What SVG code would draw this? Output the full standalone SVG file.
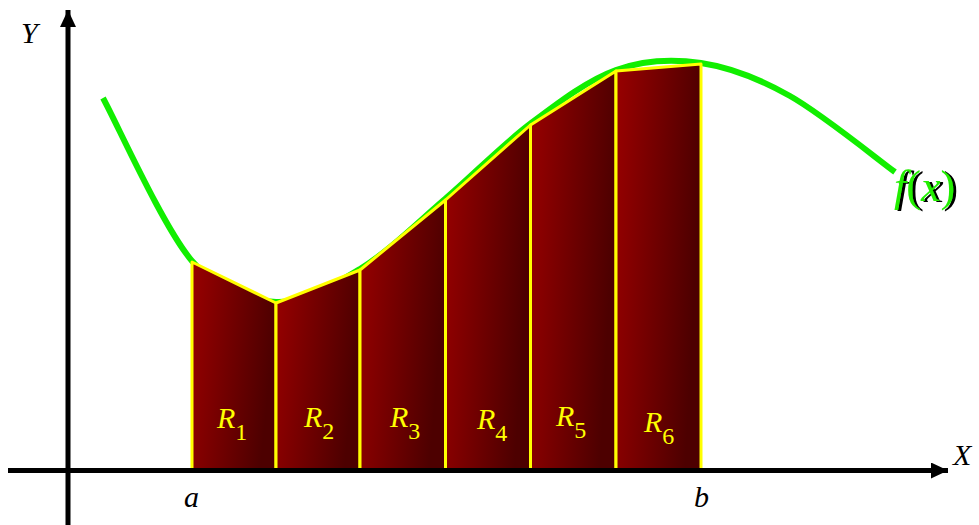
<svg xmlns="http://www.w3.org/2000/svg" width="979" height="525" viewBox="0 0 979 525">
<defs>
<linearGradient id="rg" x1="0" y1="0" x2="1" y2="0.25">
<stop offset="0" stop-color="#990000"/>
<stop offset="1" stop-color="#4d0000"/>
</linearGradient>
<marker id="ah" markerUnits="userSpaceOnUse" markerWidth="20" markerHeight="18" refX="17" refY="8" orient="auto">
<path d="M0,0 L17,8 L0,16 Z" fill="#000"/>
</marker>
<filter id="shadow" x="-10%" y="-10%" width="130%" height="130%">
<feOffset in="SourceAlpha" dx="3" dy="1" result="off"/>
<feFlood flood-color="#000"/>
<feComposite in2="off" operator="in" result="sh"/>
<feMerge><feMergeNode in="sh"/><feMergeNode in="SourceGraphic"/></feMerge>
</filter>
<style>
.trap{fill:url(#rg);stroke:#ffff00;stroke-width:3;stroke-linejoin:round}
.lbl{font-family:"Liberation Serif","Times New Roman",serif;font-style:italic;fill:#ffff00;font-size:30px}
.sub{font-size:24px;font-style:normal}
.ax{font-family:"Liberation Serif","Times New Roman",serif;font-style:italic;fill:#000;font-size:30px}
.axis{stroke:#000;stroke-width:5;fill:none}
.fx{font-family:"Liberation Serif","Times New Roman",serif;font-size:44px;fill:#22ee00}
</style>
</defs>
<g id="curve">
<path d="M103,98 C117.8,125.2 163.2,227 192,261 C220.8,295 248,300.7 276,302 C304,303.3 331.8,286.2 360,269 C388.2,251.8 416.7,223.2 445,199 C473.3,174.8 501.5,145.5 530,124 C558.5,102.5 587.5,80.2 616,70 C644.5,59.8 672,58.7 701,63 C730,67.3 757.7,77.8 790,96 C822.3,114.2 877.5,159.3 895,172" fill="none" stroke="#11ee00" stroke-width="6" stroke-linecap="butt"/>
</g>
<g id="R1"><polygon class="trap" points="192,470 192,262 276,303 276,470"/><text class="lbl" x="217" y="428">R<tspan class="sub" dy="12">1</tspan></text></g>
<g id="R2"><polygon class="trap" points="276,470 276,303 360,270 360,470"/><text class="lbl" x="304" y="427">R<tspan class="sub" dy="12">2</tspan></text></g>
<g id="R3"><polygon class="trap" points="360,470 360,270 445.5,200 445.5,470"/><text class="lbl" x="390" y="427">R<tspan class="sub" dy="12">3</tspan></text></g>
<g id="R4"><polygon class="trap" points="445.5,470 445.5,200 530.5,125 530.5,470"/><text class="lbl" x="477" y="429">R<tspan class="sub" dy="12">4</tspan></text></g>
<g id="R5"><polygon class="trap" points="530.5,470 530.5,125 616,71 616,470"/><text class="lbl" x="556" y="426">R<tspan class="sub" dy="12">5</tspan></text></g>
<g id="R6"><polygon class="trap" points="616,470 616,71 701,64 701,470"/><text class="lbl" x="644" y="432">R<tspan class="sub" dy="12">6</tspan></text></g>
<g id="axes">
<line class="axis" x1="68" y1="525" x2="68" y2="10" marker-end="url(#ah)"/>
<line class="axis" x1="8" y1="470.5" x2="948" y2="470.5" marker-end="url(#ah)"/>
</g>
<g id="labels">
<text class="ax" x="21" y="43">Y</text>
<text class="ax" x="953" y="465">X</text>
<text class="ax" x="184" y="507">a</text>
<text class="ax" x="694" y="507">b</text>
<text class="fx" x="894" y="201" filter="url(#shadow)"><tspan font-style="italic">f</tspan>(<tspan font-style="italic">x</tspan>)</text>
</g>
</svg>
